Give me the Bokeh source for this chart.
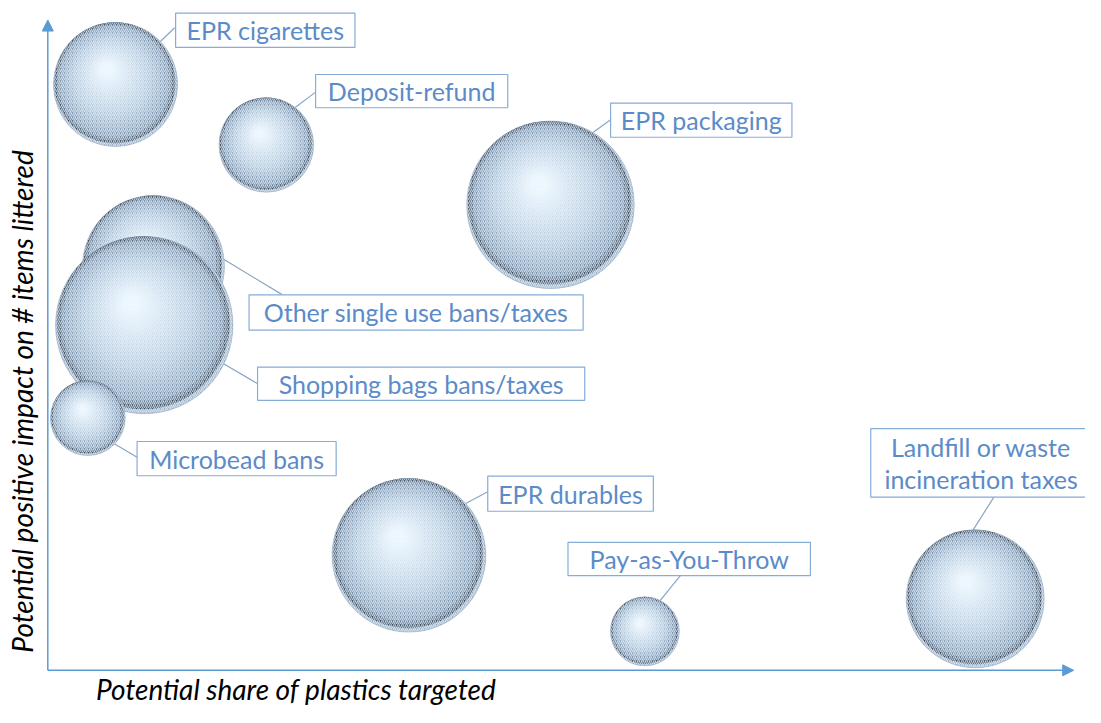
import math
from bokeh.plotting import figure
from bokeh.models import Range1d, Arrow, NormalHead, Label
from bokeh.core.properties import value
from bokeh.embed import file_html
from bokeh.resources import INLINE

# ---------------- data ----------------
policies = ["EPR cigarettes", "Deposit-refund", "EPR packaging",
            "Other single use bans/taxes", "Shopping bags bans/taxes",
            "Microbead bans", "EPR durables", "Pay-as-You-Throw",
            "Landfill or waste\nincineration taxes"]
share = [6.6, 21.3, 49.0, 10.3, 9.4, 3.9, 35.2, 58.2, 90.4]      # potential share of plastics targeted
impact = [90.1, 80.8, 71.6, 62.1, 53.1, 38.8, 17.7, 6.0, 11.0]   # potential impact on # items littered
bubble = [63, 48, 85, 72, 90, 38, 78, 35, 70]                     # relative bubble size

x_title = "Potential share of plastics targeted"
y_title = "Potential positive impact on # items littered"

# ---------------- layout ----------------
W, H = 1085, 707
REF_W, REF_H = 1101, 723
SX, SY = W / REF_W, H / REF_H


def px2x(px):
    return (px - 48) / (1089 - 48) * 100


def px2y(py):
    return (685 - py) / (685 - 20) * 100


x0, x1 = px2x(0), px2x(REF_W)
y0, y1 = px2y(REF_H), px2y(0)
XPP = (x1 - x0) / W
YPP = (y1 - y0) / H

# label box: offset of box centre from bubble centre (px), box w, h, leader start angle, leader end rel. box centre
label_layout = [
    (152, -55.5, 182, 35, -43.7, (-92, -2.5)),
    (147.5, -55, 195, 34, -52.4, (-97.5, 1)),
    (153, -86.5, 184, 35, -59.5, (-92, -0.5)),
    (266.5, 47, 339, 36, -5.6, (-135.5, -18)),
    (281, 60, 332, 34, 26, (-166, 0)),
    (151, 41.5, 202, 35, 43.9, (-101, -1.5)),
    (164, -63, 168, 36, -42.4, (-84, -2)),
    (45, -74, 246, 34, -63.4, (-9, 17)),
    (6, -139, 224, 70, -91.7, (13, 35)),
]

TEXT_COLOR = "#5b8bc8"
BOX_COLOR = "#86acd8"
LEADER_COLOR = "#8aa5c4"
AXIS_COLOR = "#5b9bd5"
FONT = "Lato"

p = figure(width=W, height=H, x_range=Range1d(x0, x1), y_range=Range1d(y0, y1),
           toolbar_location=None, output_backend="svg",
           x_axis_location=None, y_axis_location=None, min_border=0)
p.outline_line_color = None
p.xgrid.grid_line_color = None
p.ygrid.grid_line_color = None
p.background_fill_color = "white"
p.border_fill_color = "white"

# axes arrows
for xe, ye in [(100, 0), (0, 100)]:
    p.add_layout(Arrow(end=NormalHead(size=11, fill_color=AXIS_COLOR, line_color=AXIS_COLOR),
                       x_start=0, y_start=0, x_end=xe, y_end=ye,
                       line_color=AXIS_COLOR, line_width=1.5))

# axis titles
p.add_layout(Label(x=px2x(300), y=px2y(704), text=x_title, text_font=FONT,
                   text_font_style="italic", text_font_size="28px", text_color="black",
                   text_align="center", text_baseline="middle"))
p.add_layout(Label(x=px2x(22), y=px2y(410), text=y_title, text_font=FONT, angle=math.pi / 2,
                   text_font_style="italic", text_font_size="28px", text_color="black",
                   text_align="center", text_baseline="middle"))


def hex2rgb(h):
    h = h.lstrip("#")
    return [int(h[i:i + 2], 16) for i in (0, 2, 4)]


stops = [(0.0, "#3f4e60"), (0.08, "#7891a9"), (0.40, "#b0c4d5"), (1.0, "#f4fbff")]


def grad(t):
    for (t1, c1), (t2, c2) in zip(stops[:-1], stops[1:]):
        if t <= t2:
            f = (t - t1) / (t2 - t1)
            a, b = hex2rgb(c1), hex2rgb(c2)
            return "#%02x%02x%02x" % tuple(int(round(a[i] + (b[i] - a[i]) * f)) for i in range(3))
    return stops[-1][1]


R = [b * SX for b in bubble]

# leader lines + boxes
lx0, ly0, lx1, ly1 = [], [], [], []
bx, by, bw, bh = [], [], [], []
for i in range(len(policies)):
    ox, oy, w, h, ang, (ex, ey) = label_layout[i]
    cx = share[i] + ox * SX * XPP
    cy = impact[i] - oy * SY * YPP
    bx.append(cx); by.append(cy); bw.append(w * SX); bh.append(h * SY)
    a = math.radians(ang)
    lx0.append(share[i] + R[i] * math.cos(a) * XPP)
    ly0.append(impact[i] - R[i] * math.sin(a) * YPP)
    lx1.append(cx + ex * SX * XPP)
    ly1.append(cy - ey * SY * YPP)

p.segment(lx0, ly0, lx1, ly1, line_color=LEADER_COLOR, line_width=1.2)

# spheres, each drawn completely before the next one
N = 26
for i in range(len(policies)):
    r = R[i]
    p.circle([share[i]], [impact[i]], radius=r, radius_units="screen",
             fill_color="#9fb4c7", line_color=None)
    for k in range(N):
        t = k / (N - 1)
        rf = 0.975 - 0.88 * t
        ofx = -0.01 - 0.13 * t
        ofy = -0.025 - 0.22 * t
        p.circle([share[i] + ofx * r * XPP], [impact[i] - ofy * r * YPP],
                 radius=rf * r, radius_units="screen", fill_color=grad(t), line_color=None)
    p.circle([share[i]], [impact[i]], radius=r, radius_units="screen", fill_color=None,
             hatch_pattern="/", hatch_color="#e6f2ff", hatch_alpha=0.75, hatch_scale=4,
             hatch_weight=1.2, line_color="#6f8aa5", line_width=0.6, line_alpha=0.6)

p.rect(bx, by, width=bw, height=bh, width_units="screen", height_units="screen",
       fill_color="white", line_color=BOX_COLOR, line_width=1.2)
p.text(bx, by, text=policies, text_font=value(FONT), text_font_size="25px",
       text_color=TEXT_COLOR, text_align="center", text_baseline="middle",
       text_line_height=1.05)

open("out.html", "w").write(file_html(p, INLINE))
